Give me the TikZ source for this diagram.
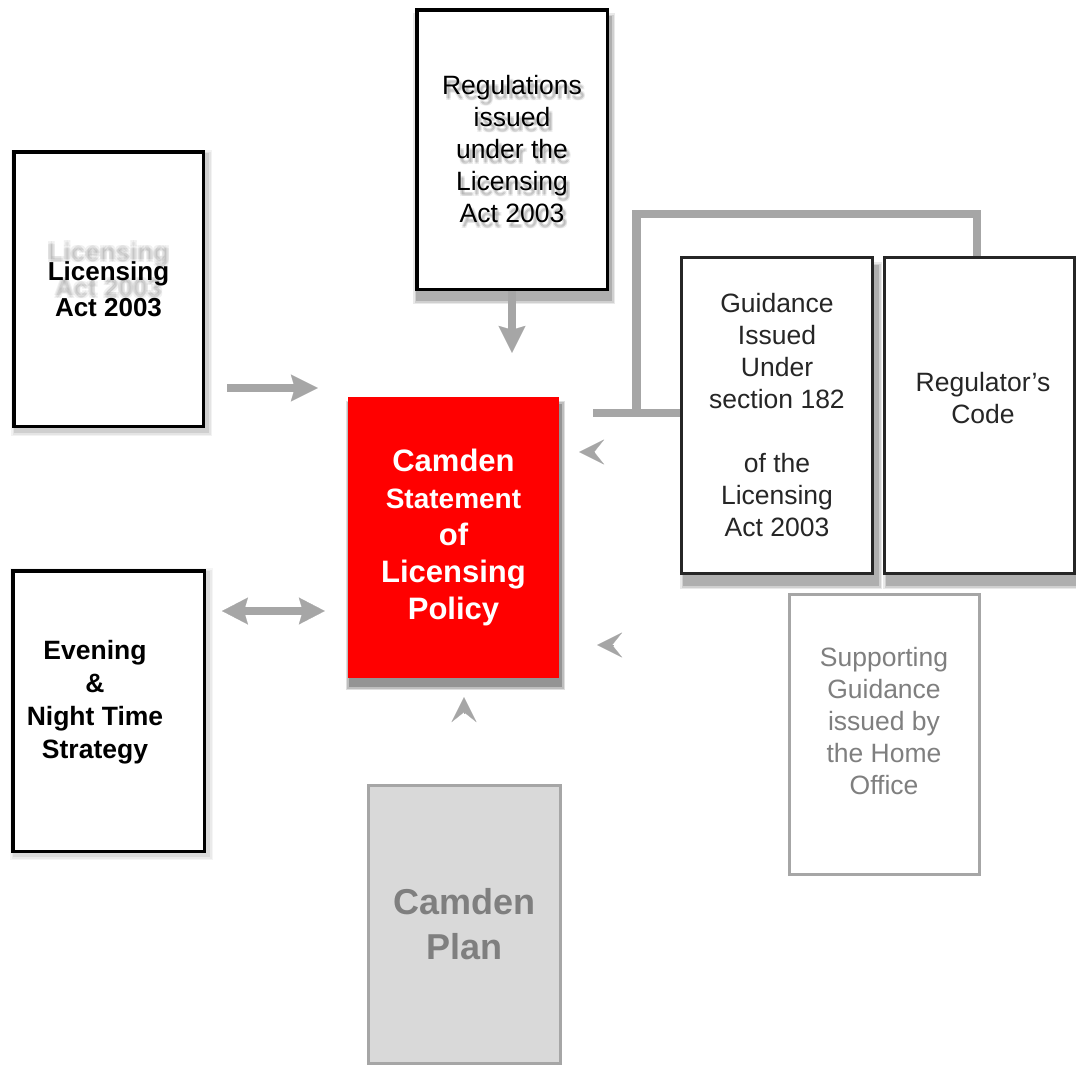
\documentclass[tikz,border=0pt]{standalone}
\usepackage{fontspec}
\setmainfont{Liberation Sans}
\usetikzlibrary{arrows.meta,backgrounds}

\definecolor{linkgray}{HTML}{A6A6A6}
\definecolor{softtext}{HTML}{7F7F7F}
\definecolor{planfill}{HTML}{D9D9D9}
\definecolor{policyred}{HTML}{FF0000}
\definecolor{inkdark}{HTML}{262626}

% soft drop shadow behind a node: #1 node, #2/#3 offset, #4 strength
\newcommand\softshade[4]{%
  \foreach \s/\o in {4/0.25,2.5/0.3,1/0.45}{%
    \pgfmathsetmacro\shadeop{#4*\o}%
    \fill[black,opacity=\shadeop]
      ([shift={(#2-\s,#3+\s)}]#1.south west) rectangle
      ([shift={(#2+\s,#3-\s)}]#1.north east);}}

\tikzset{
  doc/.style={rectangle, inner sep=0pt, align=center},
  blackbox/.style={doc, draw=black, line width=3.5pt, fill=white},
  darkbox/.style={doc, draw=inkdark, line width=3pt, fill=white},
  greybox/.style={doc, draw=linkgray, line width=3pt, fill=white},
  txt/.style={align=center, font=\fontsize{26.5}{32}\selectfont},
  boldtxt/.style={align=center, font=\bfseries\fontsize{26}{36}\selectfont},
  boldeve/.style={align=center, font=\bfseries\fontsize{26.5}{33}\selectfont},
  bar/.style={draw=linkgray, line width=8.5pt},
  flow/.style={draw=linkgray, line width=8.5pt,
    -{Stealth[length=27pt,width=27pt,inset=4pt,line width=0.2pt]}},
  flowboth/.style={draw=linkgray, line width=8.5pt,
    {Stealth[length=26pt,width=27pt,inset=4pt,line width=0.2pt]}-{Stealth[length=26pt,width=27pt,inset=4pt,line width=0.2pt]}},
  pointer/.style={draw=linkgray, line width=0.1pt,
    -{Stealth[length=25pt,width=25pt,inset=10pt,line width=0.2pt]}},
}

\begin{document}
\begin{tikzpicture}[x=1pt,y=-1pt]
\useasboundingbox (0,0) rectangle (1076,1066);

% --- source documents -------------------------------------------------
\node[blackbox, boldtxt, minimum width=189.5pt, minimum height=274.5pt]
  (lic) at (108.5,289) {Licensing\\Act 2003};
\foreach \dx/\dy [count=\k] in {0/-19,-1.5/-20.5,1.5/-17.5,1.5/-20.5,-1.5/-17.5}
  \node[boldtxt, text=black, opacity=0.06] (licghost\k)
    at ([shift={(\dx,\dy)}]lic.center) {Licensing\\Act 2003};

\node[blackbox, txt, minimum width=190.5pt, minimum height=279.5pt]
  (reg) at (512,149.5) {Regulations\\issued\\under the\\Licensing\\Act 2003};
\foreach \dx/\dy [count=\k] in {3/5,2/4,4/6,4/4,2/6}
  \node[txt, text=black, opacity=0.07] (regshade\k)
    at ([shift={(\dx,\dy)}]reg.center) {Regulations\\issued\\under the\\Licensing\\Act 2003};

\node[blackbox, minimum width=191.5pt, minimum height=280.5pt]
  (eve) at (108.5,711) {};
\node[boldeve] (evetext) at (95,702) {Evening\\\&\\Night Time\\Strategy};

\node[darkbox, txt, text=inkdark, minimum width=191pt, minimum height=316pt]
  (gui) at (777,415.5)
  {Guidance\\Issued\\Under\\section 182\\[32pt]of the\\Licensing\\Act 2003};

\node[darkbox, minimum width=190pt, minimum height=316pt]
  (code) at (979.5,415.5) {};
\node[txt, text=inkdark] (codetext) at (983,398.5) {Regulator's\\Code};

\node[greybox, minimum width=190pt, minimum height=280pt]
  (sup) at (884.5,734.5) {};
\node[txt, text=softtext] (suptext) at (884,721)
  {Supporting\\Guidance\\issued by\\the Home\\Office};

\node[greybox, fill=planfill, text=softtext,
  font=\bfseries\fontsize{36}{45}\selectfont,
  minimum width=192pt, minimum height=278pt]
  (plan) at (464.5,924.5) {Camden\\Plan};

% --- the policy itself --------------------------------------------------
\node[doc, fill=policyred, text=white,
  font=\bfseries\fontsize{31}{37}\selectfont,
  minimum width=211pt, minimum height=281pt]
  (pol) at (453.5,537.5)
  {Camden\\{\fontsize{28}{37}\selectfont Statement}\\of\\Licensing\\Policy};

% --- shadows ------------------------------------------------------------
\begin{scope}[on background layer]
  \softshade{lic}{3}{4}{0.2}
  \softshade{eve}{3}{3}{0.15}
  \softshade{reg}{2}{9}{0.35}
  \softshade{gui}{4}{10}{0.35}
  \softshade{code}{4}{10}{0.35}
  \softshade{pol}{2}{8}{0.5}
\end{scope}

% --- bracket joining the statutory guidance and the code ---------------
\coordinate (barend) at (593,413);
\coordinate (barknee) at (636.5,413);
\coordinate (bartop) at (977,214);
\draw[bar] (barend) -- (barend -| gui.west);
\draw[bar] (barknee) |- (bartop) -- (bartop |- code.north);

% --- connectors ---------------------------------------------------------
\coordinate (yact) at (0,388);
\draw[flow, shorten <=22pt, shorten >=30pt] (lic.east |- yact) -- (pol.west |- yact);
\draw[flow, shorten >=44pt] (reg.south) -- (pol.north -| reg.south);
\coordinate (ylink) at (0,611);
\draw[flowboth, shorten <=16pt, shorten >=23pt] (eve.east |- ylink) -- (pol.west |- ylink);

\coordinate (yguide) at (0,452);
\draw[pointer, shorten <=85pt, shorten >=20pt] (gui.west |- yguide) -- (pol.east |- yguide);
\coordinate (ysupport) at (0,645);
\draw[pointer, shorten <=174pt, shorten >=38pt] (sup.west |- ysupport) -- (pol.east |- ysupport);
\coordinate (xplan) at (464,0);
\draw[pointer, shorten <=70pt, shorten >=19pt] (plan.north -| xplan) -- (pol.south -| xplan);

\end{tikzpicture}
\end{document}
